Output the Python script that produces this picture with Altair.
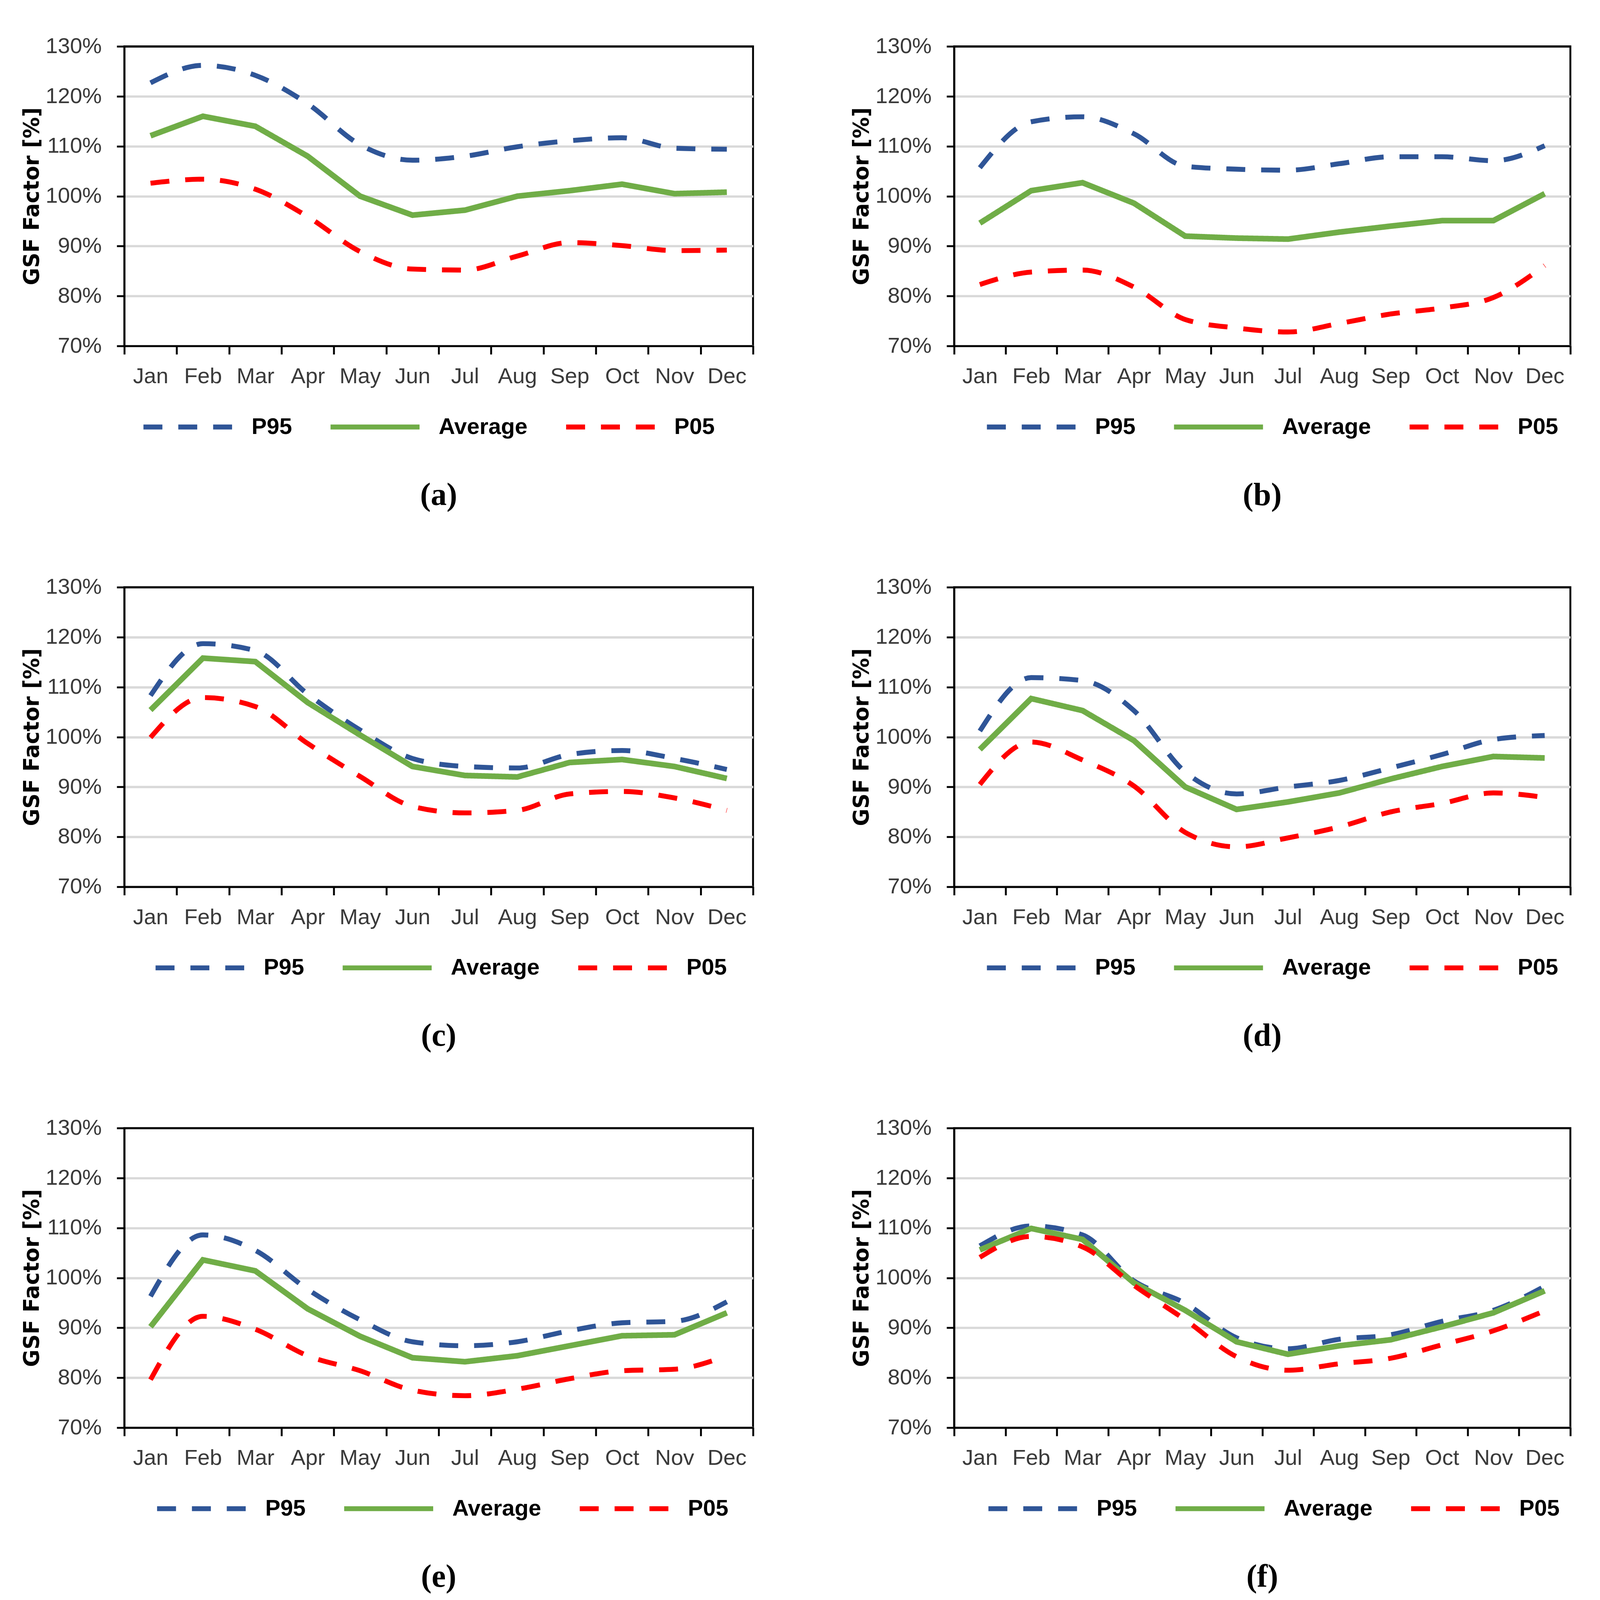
import altair as alt
import pandas as pd

months = ["Jan", "Feb", "Mar", "Apr", "May", "Jun", "Jul", "Aug", "Sep", "Oct", "Nov", "Dec"]
series_names = ["P95", "Average", "P05"]
series_colors = ["#2F5597", "#70AD47", "#FF0000"]

captions = ["(a)", "(b)", "(c)", "(d)", "(e)", "(f)"]

a_p95 = [122.7, 126.2, 124.2, 118.5, 110.3, 107.2, 108.0, 109.9, 111.1, 111.7, 109.6, 109.4]
a_avg = [112.1, 116.0, 114.0, 108.0, 100.0, 96.2, 97.2, 100.0, 101.1, 102.4, 100.5, 100.8]
a_p05 = [102.6, 103.4, 101.4, 95.9, 88.9, 85.4, 85.2, 88.0, 90.7, 90.1, 89.1, 89.2]

b_p95 = [105.7, 114.9, 115.9, 112.5, 106.0, 105.4, 105.2, 106.5, 107.9, 107.9, 107.1, 110.1]
b_avg = [94.6, 101.1, 102.7, 98.6, 92.0, 91.6, 91.4, 92.8, 94.0, 95.1, 95.1, 100.5]
b_p05 = [82.3, 84.8, 85.2, 81.8, 75.3, 73.6, 72.8, 74.5, 76.4, 77.6, 79.7, 86.1]

c_p95 = [108.3, 118.7, 117.3, 108.6, 101.4, 95.7, 94.1, 93.8, 96.5, 97.3, 95.7, 93.5]
c_avg = [105.4, 115.8, 115.1, 106.9, 100.4, 94.1, 92.3, 92.0, 94.9, 95.5, 94.1, 91.7]
c_p05 = [99.9, 107.9, 106.1, 98.7, 92.1, 86.1, 84.8, 85.3, 88.6, 89.1, 87.8, 85.3]

d_p95 = [101.2, 111.9, 111.3, 105.3, 93.0, 88.6, 90.0, 91.3, 93.8, 96.5, 99.5, 100.3]
d_avg = [97.5, 107.7, 105.3, 99.3, 90.0, 85.5, 87.0, 88.8, 91.6, 94.1, 96.1, 95.8]
d_p05 = [90.5, 99.0, 95.4, 90.2, 80.9, 78.0, 79.8, 82.0, 85.0, 86.7, 88.8, 87.9]

e_p95 = [96.3, 108.6, 105.5, 97.7, 91.6, 87.2, 86.4, 87.2, 89.4, 91.0, 91.3, 95.2]
e_avg = [90.2, 103.6, 101.4, 93.8, 88.3, 84.0, 83.2, 84.4, 86.4, 88.4, 88.6, 93.0]
e_p05 = [79.6, 92.3, 89.7, 84.4, 81.4, 77.5, 76.4, 77.7, 79.8, 81.4, 81.7, 84.4]

f_p95 = [106.4, 110.4, 108.6, 99.4, 94.9, 88.0, 85.8, 87.7, 88.6, 91.3, 93.5, 98.3]
f_avg = [105.6, 109.9, 107.7, 99.0, 93.5, 87.2, 84.7, 86.4, 87.6, 90.2, 93.0, 97.4]
f_p05 = [104.1, 108.3, 106.2, 98.5, 91.6, 84.2, 81.5, 82.8, 83.9, 86.6, 89.4, 93.4]

y_ticks = [70, 80, 90, 100, 110, 120, 130]

# layout (pixels)
PANEL_W = [1660, 1627, 1660, 1627, 1660, 1627]
LEGEND_X = [44, 80, 76, 80, 80, 84]
PH = 791
TICK_FONT = "Liberation Sans, Arial"
DASH = [50, 42]
SYM = 235


def make_panel(caption, p95, avg, p05, pw, lx):
    rows = []
    for s, vals in zip(series_names, [p95, avg, p05]):
        for m, v in zip(months, vals):
            rows.append({"month": m, "series": s, "value": v})
    df = pd.DataFrame(rows)

    legend = alt.Legend(
        title=None,
        orient="none",
        legendX=lx,
        legendY=PH + 90,
        direction="horizontal",
        symbolType="stroke",
        symbolSize=SYM * SYM,
        symbolStrokeWidth=13,
        labelFont=TICK_FONT,
        labelFontWeight="bold",
        labelFontSize=60,
        labelColor="#000000",
        labelOffset=44,
        labelLimit=0,
        columnPadding=75,
        symbolLimit=0,
    )

    base = alt.Chart(df).encode(
        x=alt.X(
            "month:N",
            sort=months,
            scale=alt.Scale(type="band", domain=months, paddingInner=0, paddingOuter=0),
            axis=alt.Axis(
                title=None,
                labelAngle=0,
                tickBand="extent",
                ticks=True,
                tickSize=22,
                tickWidth=5,
                tickColor="#000000",
                domainColor="#000000",
                domainWidth=5,
                labelFont=TICK_FONT,
                labelFontSize=58,
                labelColor="#3A3A3A",
                labelPadding=30,
                grid=False,
            ),
        ),
        y=alt.Y(
            "value:Q",
            scale=alt.Scale(domain=[70, 130], nice=False, zero=False),
            axis=alt.Axis(
                title="GSF Factor [%]",
                titleFont="DejaVu Sans",
                titleFontWeight="bold",
                titleFontSize=56,
                titleColor="#000000",
                titlePadding=15,
                values=y_ticks,
                labelExpr="datum.value + '%'",
                labelFont=TICK_FONT,
                labelFontSize=58,
                labelColor="#3A3A3A",
                labelPadding=40,
                tickSize=20,
                tickWidth=5,
                tickColor="#000000",
                domainColor="#000000",
                domainWidth=5,
                grid=True,
                gridColor=alt.condition(
                    "datum.value >= 130", alt.value("#000000"), alt.value("#D9D9D9")
                ),
                gridWidth=alt.condition(
                    "datum.value >= 130", alt.value(5), alt.value(6)
                ),
            ),
        ),
        color=alt.Color(
            "series:N",
            scale=alt.Scale(domain=series_names, range=series_colors),
            legend=legend,
        ),
        strokeDash=alt.StrokeDash(
            "series:N",
            scale=alt.Scale(domain=series_names, range=[DASH, [1, 0], DASH]),
            legend=legend,
        ),
    )

    l_p95 = base.transform_filter(alt.datum.series == "P95").mark_line(
        interpolate="monotone", strokeWidth=13
    )
    l_avg = base.transform_filter(alt.datum.series == "Average").mark_line(
        strokeWidth=15
    )
    l_p05 = base.transform_filter(alt.datum.series == "P05").mark_line(
        interpolate="monotone", strokeWidth=13
    )

    return alt.layer(l_p95, l_avg, l_p05).properties(
        width=pw,
        height=PH,
        title=alt.TitleParams(
            caption,
            orient="bottom",
            font="Liberation Serif",
            fontSize=84,
            fontWeight="bold",
            color="#000000",
            offset=110,
        ),
    )


data_sets = [
    (a_p95, a_avg, a_p05),
    (b_p95, b_avg, b_p05),
    (c_p95, c_avg, c_p05),
    (d_p95, d_avg, d_p05),
    (e_p95, e_avg, e_p05),
    (f_p95, f_avg, f_p05),
]

panels = [
    make_panel(c, *d, pw, lx)
    for c, d, pw, lx in zip(captions, data_sets, PANEL_W, LEGEND_X)
]

rows = []
for i in range(0, 6, 2):
    rows.append(
        alt.hconcat(panels[i], panels[i + 1], spacing=251)
        .resolve_scale(color="independent", strokeDash="independent")
        .resolve_legend(color="independent", strokeDash="independent")
    )

chart = (
    alt.vconcat(*rows, spacing=165)
    .resolve_scale(color="independent", strokeDash="independent")
    .resolve_legend(color="independent", strokeDash="independent")
    .properties(padding={"left": 45, "top": 17, "right": 65, "bottom": 20}, background="#FFFFFF")
    .configure_view(stroke="#000000", strokeWidth=5)
)

chart.save("out.html", embed_options={"renderer": "svg", "actions": False})
